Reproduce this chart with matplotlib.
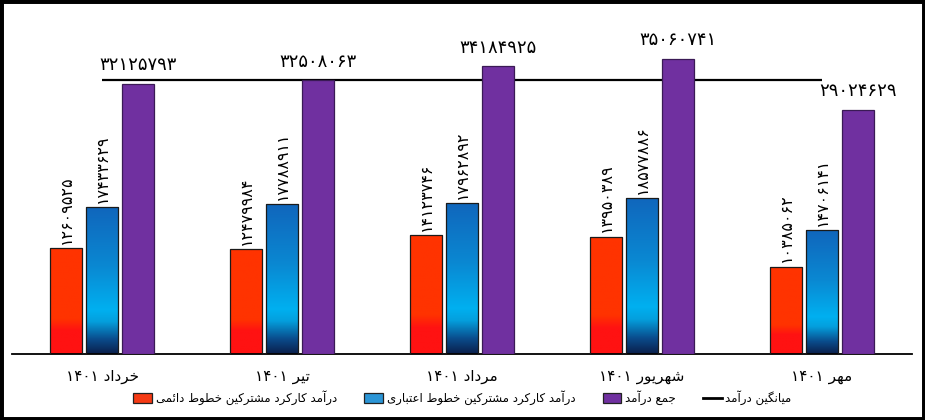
import re
import numpy as np
import matplotlib
matplotlib.use('Agg')
import matplotlib.pyplot as plt
from matplotlib.colors import LinearSegmentedColormap
from matplotlib.patches import Patch, Rectangle
from matplotlib.lines import Line2D

plt.rcParams['font.family'] = ['DejaVu Sans']

# data
months = ['خرداد ۱۴۰۱', 'تیر ۱۴۰۱', 'مرداد ۱۴۰۱', 'شهریور ۱۴۰۱', 'مهر ۱۴۰۱']
fixed_lines = [12609525, 12479984, 14123746, 13950389, 10385062]
credit_lines = [17433629, 17788911, 17962892, 18577886, 14706141]
total_income = [32125793, 32508063, 34184925, 35060741, 29024629]
series_names = ['درآمد کارکرد مشترکین خطوط دائمی',
                'درآمد کارکرد مشترکین خطوط اعتباری',
                'جمع درآمد',
                'میانگین درآمد']

# simple arabic/persian shaping (matplotlib has no text shaping)
FORMS = {  # isolated, final, initial, medial
    'ا': ('\uFE8D', '\uFE8E', None, None),
    'آ': ('\uFE81', '\uFE82', None, None),
    'ب': ('\uFE8F', '\uFE90', '\uFE91', '\uFE92'),
    'ت': ('\uFE95', '\uFE96', '\uFE97', '\uFE98'),
    'ج': ('\uFE9D', '\uFE9E', '\uFE9F', '\uFEA0'),
    'خ': ('\uFEA5', '\uFEA6', '\uFEA7', '\uFEA8'),
    'د': ('\uFEA9', '\uFEAA', None, None),
    'ر': ('\uFEAD', '\uFEAE', None, None),
    'ش': ('\uFEB5', '\uFEB6', '\uFEB7', '\uFEB8'),
    'ط': ('\uFEC1', '\uFEC2', '\uFEC3', '\uFEC4'),
    'ع': ('\uFEC9', '\uFECA', '\uFECB', '\uFECC'),
    'ک': ('\uFB8E', '\uFB8F', '\uFB90', '\uFB91'),
    'گ': ('\uFB92', '\uFB93', '\uFB94', '\uFB95'),
    'م': ('\uFEE1', '\uFEE2', '\uFEE3', '\uFEE4'),
    'ن': ('\uFEE5', '\uFEE6', '\uFEE7', '\uFEE8'),
    'ه': ('\uFEE9', '\uFEEA', '\uFEEB', '\uFEEC'),
    'و': ('\uFEED', '\uFEEE', None, None),
    'ی': ('\uFBFC', '\uFBFD', '\uFBFE', '\uFBFF'),
    'ئ': ('\uFE89', '\uFE8A', '\uFE8B', '\uFE8C'),
}
DIGITS = '۰۱۲۳۴۵۶۷۸۹'


def shape(text):
    out = []
    for i, ch in enumerate(text):
        if ch not in FORMS:
            out.append(ch)
            continue
        prev = text[i - 1] if i > 0 else ''
        nxt = text[i + 1] if i + 1 < len(text) else ''
        join_prev = prev in FORMS and FORMS[prev][2] is not None
        join_next = nxt in FORMS and FORMS[ch][2] is not None
        iso, fin, ini, med = FORMS[ch]
        if join_prev and join_next:
            out.append(med)
        elif join_prev:
            out.append(fin)
        elif join_next:
            out.append(ini)
        else:
            out.append(iso)
    return ''.join(out)


def rtl(text):
    runs = re.findall('[%s]+|[^%s]+' % (DIGITS, DIGITS), shape(text))
    return ''.join(r if r[0] in DIGITS else r[::-1] for r in runs[::-1])


def fa_num(n):
    return str(n).translate(str.maketrans('0123456789', DIGITS))


red_cmap = LinearSegmentedColormap.from_list(
    'red', [(0, '#FF1212'), (0.22, '#FF1212'), (0.33, '#FF3300'), (1, '#FF3300')])
blue_cmap = LinearSegmentedColormap.from_list(
    'blue', [(0, '#0B1F4B'), (0.1, '#0A4C8C'), (0.22, '#049FDD'), (0.3, '#00B0F0'),
             (0.6, '#0A88D2'), (1, '#1066BC')])
grad = np.linspace(0, 1, 256).reshape(-1, 1)

fig = plt.figure(figsize=(9.25, 4.2), dpi=100)
ax = fig.add_axes([12 / 925, 1 - 354 / 420, 900 / 925, 350 / 420])

x = np.arange(len(months))
w = 0.178
step = 0.2

for vals, cmap, off in [(fixed_lines, red_cmap, -step), (credit_lines, blue_cmap, 0)]:
    bars = ax.bar(x + off, vals, w, facecolor='none', edgecolor='#1a1a1a', lw=0.9, zorder=3)
    for b in bars:
        im = ax.imshow(grad, cmap=cmap, origin='lower', aspect='auto', zorder=2,
                       extent=[b.get_x(), b.get_x() + b.get_width(), 0, b.get_height()])
        im.set_clip_path(b)
    for xi, v in zip(x + off, vals):
        ax.annotate(fa_num(v), (xi, v), xytext=(0, 3), textcoords='offset points',
                    rotation=90, ha='center', va='bottom', fontsize=11.5)

ax.bar(x + step, total_income, w, color='#7030A0', edgecolor='#3a1a55', lw=0.9, zorder=3)
for xi, v in zip(x + step, total_income):
    ax.annotate(fa_num(v), (xi, v), xytext=(0, 7), textcoords='offset points',
                ha='center', va='bottom', fontsize=13)

avg = np.mean(total_income)
ax.hlines(avg, x[0], x[-1], color='black', lw=1.6, zorder=1)

ax.set_xlim(-0.5, 4.5)
ax.set_ylim(0, 41.6e6)
ax.set_xticks(x)
ax.set_xticklabels([rtl(m) for m in months], fontsize=11)
ax.tick_params(axis='x', length=0, pad=11)
ax.set_yticks([])
for s in ['top', 'left', 'right']:
    ax.spines[s].set_visible(False)
ax.spines['bottom'].set_linewidth(1.3)

handles = [Patch(facecolor='#F53A14', edgecolor='#222222', lw=0.9),
           Patch(facecolor='#2B95D6', edgecolor='#222222', lw=0.9),
           Patch(facecolor='#7030A0', edgecolor='#222222', lw=0.9),
           Line2D([], [], color='black', lw=2)]
fig.legend(handles, [rtl(s) for s in series_names], loc='center',
           bbox_to_anchor=(0.5, 1 - 398 / 420), ncol=4, frameon=False,
           fontsize=8.5, handlelength=1.6, handleheight=0.9, handletextpad=0.3,
           columnspacing=2.3)

fig.patches.append(Rectangle((0, 0), 1, 1, transform=fig.transFigure, fill=False,
                             edgecolor='black', lw=5))

fig.savefig('out.png', dpi=100)
